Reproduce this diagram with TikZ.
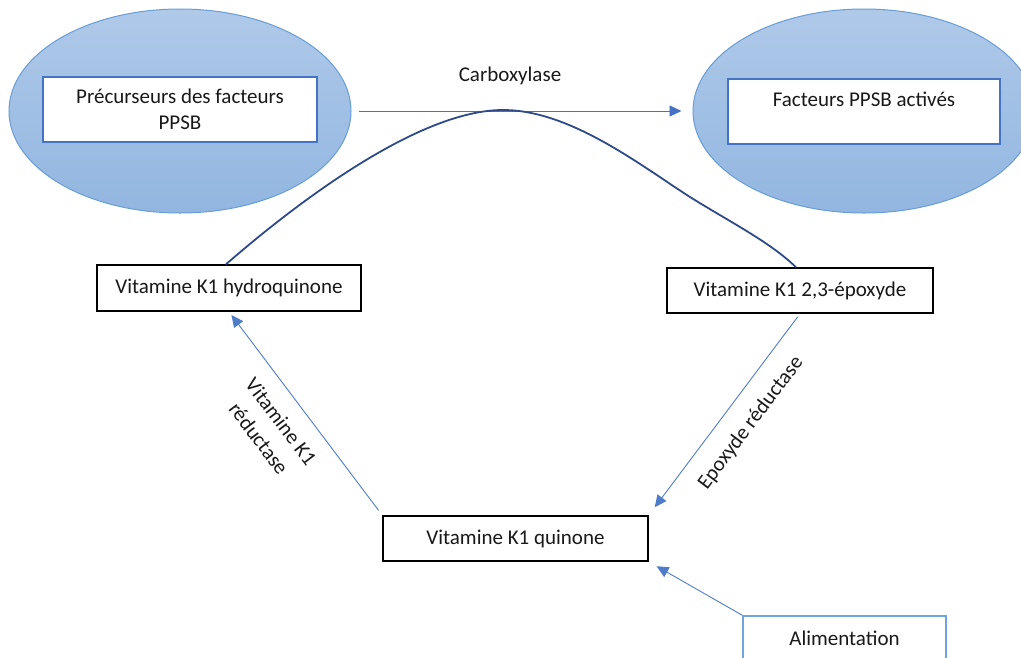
\documentclass[tikz,border=0pt]{standalone}
\usepackage{fontspec}
\setmainfont{Carlito}
\usetikzlibrary{arrows.meta,calc,shapes.geometric}
\definecolor{ellTop}{RGB}{175,201,233}
\definecolor{ellBot}{RGB}{146,182,224}
\definecolor{ellLine}{RGB}{104,157,214}
\definecolor{boxBlue}{RGB}{68,114,196}
\definecolor{arrBlue}{RGB}{78,124,200}
\definecolor{curveBlue}{RGB}{47,74,138}
\definecolor{aliBlue}{RGB}{110,165,220}
\definecolor{txt}{RGB}{25,25,25}
\tikzset{
  ell/.style={shape=ellipse, top color=ellTop, bottom color=ellBot, draw=ellLine, line width=1pt, inner sep=0pt},
  bluebox/.style={draw=boxBlue, fill=white, line width=1.3pt, inner sep=0pt, align=center, text=txt},
  blackbox/.style={draw=black, fill=white, line width=1.5pt, inner sep=0pt, align=center, text=txt},
  alibox/.style={draw=aliBlue, fill=white, line width=1.5pt, inner sep=0pt, align=center, text=txt},
  arr/.style={draw=arrBlue, line width=0.9pt, -{Triangle[length=12pt,width=11pt]}},
  lbl/.style={text=txt, align=center, inner sep=0pt},
  every node/.style={font=\fontsize{21}{25.5}\selectfont},
}
\begin{document}
\begin{tikzpicture}[x=1pt,y=-1pt]
\useasboundingbox (0,0) rectangle (1021,657);
\fill[white] (0,0) rectangle (1021,657);
% ellipses
\node[ell, minimum width=342pt, minimum height=204pt] (ellL) at (180,111) {};
\node[ell, minimum width=342pt, minimum height=204pt] (ellR) at (864,111) {};
% boxes inside ellipses
\node[bluebox, minimum width=274pt, minimum height=65pt] (prec) at (180,109.5) {Précurseurs des facteurs\\PPSB};
\node[bluebox, minimum width=272pt, minimum height=65pt] (act) at (864,111.5) {Facteurs PPSB activés\\\mbox{}};
% cycle boxes
\node[blackbox, minimum width=264pt, minimum height=46pt] (hq) at (229,288) {Vitamine K1 hydroquinone};
\node[blackbox, minimum width=266pt, minimum height=45pt] (ep) at (800,290.5) {Vitamine K1 2,3-époxyde};
\node[blackbox, minimum width=265pt, minimum height=45pt] (qn) at (515.5,538.5) {Vitamine K1 quinone};
\node[alibox, minimum width=203pt, minimum height=44pt] (al) at (844.5,638) {Alimentation};
% carboxylase arrow
\draw[arr, draw=boxBlue, shorten <=7pt, shorten >=11pt] (ellL.east) -- (ellR.west);
\node[lbl] (carb) at (510,76) {Carboxylase};
% curve
\draw[curveBlue, line width=1.8pt] ($(hq.north)+(-3,0)$) .. controls (300,200) and (420,110) .. (503,110)
  .. controls (570,110) and (640,165) .. (690,197)
  .. controls (730,222) and (770,242) .. ($(ep.north)+(-4,0)$);
% cycle arrows
\draw[arr, shorten <=6pt, shorten >=4pt] (qn.north west) -- (hq.south);
\draw[arr, shorten <=4pt, shorten >=10pt] (ep.south) -- (qn.north east);
\draw[arr, shorten >=9pt] (al.north west) -- (qn.south east);
% labels
\node[lbl, rotate=-53, font=\fontsize{21}{28}\selectfont] (vkr) at (270,430) {Vitamine K1\\réductase};
\node[lbl, rotate=53] (epr) at (751,423) {Epoxyde réductase};
\end{tikzpicture}
\end{document}
